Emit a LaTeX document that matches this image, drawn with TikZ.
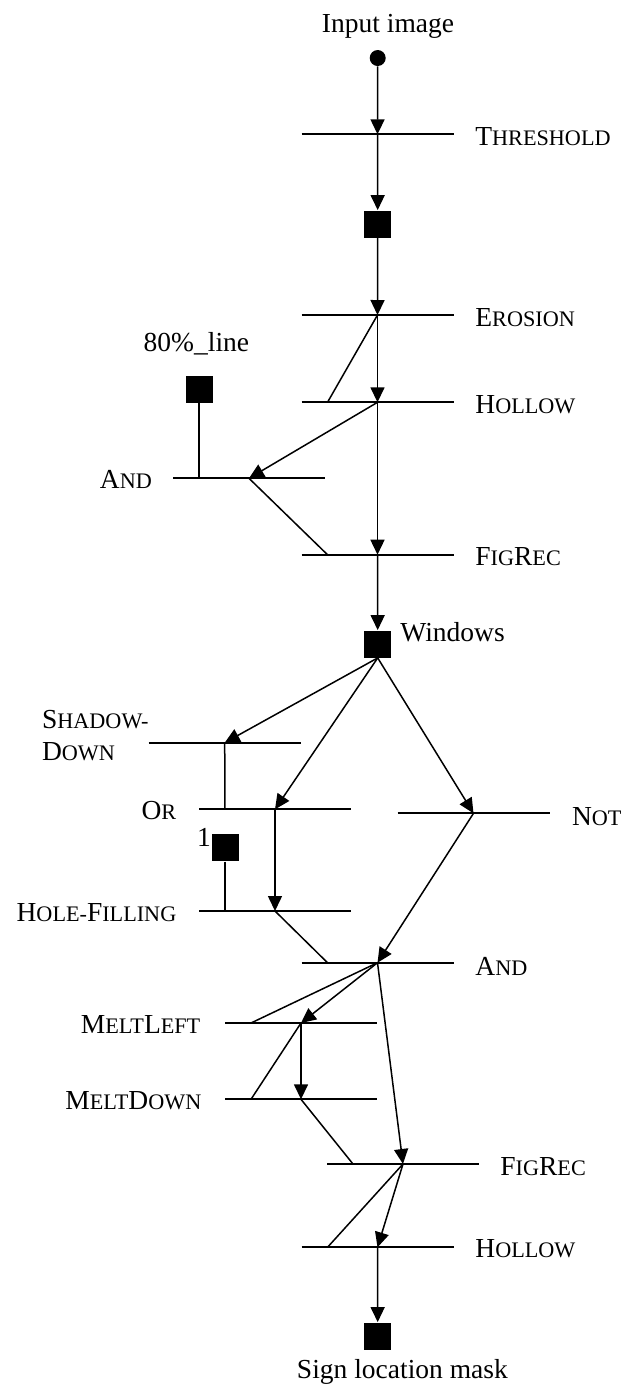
\documentclass[tikz,border=0pt]{standalone}
\usepackage{fontspec}
\setmainfont{Liberation Serif}
\usetikzlibrary{arrows.meta}

% small capitals: full-size initial, reduced capitals after it
\newcommand\smc[2]{#1{\fontsize{11.1}{13}\selectfont #2}}

\begin{document}
\begin{tikzpicture}[x=0.5pt,y=-0.5pt,
  every node/.style={font=\fontsize{13.75}{16}\selectfont, inner sep=0pt},
  opbar/.style={line width=1.1pt},
  link/.style={line width=0.75pt},
  flow/.style={link, -{Triangle[length=7.5pt,width=7pt]}},
  img/.style={fill=black, minimum size=13.5pt, inner sep=0pt},
  src/.style={circle, fill=black, minimum size=8pt, inner sep=0pt},
  lbl/.style={anchor=base west},
  lblr/.style={anchor=base east}]
\useasboundingbox (0,0) rectangle (622,1389);

% operator bars: centre coordinate, left tap point, and the bar itself
\foreach \n/\x/\y in {thr/377.5/134.3, ero/377.5/315, hol/377.5/402.3,
    and1/249/478.3, fig1/377.5/554.7, shd/224.7/742.7, or/275/809.3,
    not/473.5/813.3, hf/275/911, and2/377.5/962.7, ml/301/1023,
    md/301/1099.3, fig2/403/1164, hol2/377.5/1247.3} {
  \coordinate (\n) at (\x,\y);
  \coordinate (\n-l) at (\x-50,\y);
  \draw[opbar] (\x-76,\y) -- (\x+76,\y);
}

% images
\node[src] (input) at (377.7,58) {};
\node[img] (bin) at (377.7,224) {};
\node[img] (line80) at (199,389) {};
\node[img] (win) at (377.7,644) {};
\node[img] (one) at (225,847.7) {};
\node[img] (mask) at (377.7,1336) {};

% texts
\node[anchor=base] (t-in) at (388,32) {Input image};
\node[lbl] (t-thr) at (475,145) {\smc{T}{HRESHOLD}};
\node[lbl] (t-ero) at (475,326) {\smc{E}{ROSION}};
\node[lbl] (t-hol) at (475,413) {\smc{H}{OLLOW}};
\node[lbl] (t-80) at (143.3,351.7) {80\%\_line};
\node[lblr] (t-and1) at (152.3,488.3) {\smc{A}{ND}};
\node[lbl] (t-fig1) at (475,565) {\smc{F}{IG}\smc{R}{EC}};
\node[lbl] (t-win) at (400,641.7) {Windows};
\node[lbl] (t-shd1) at (41.7,728.3) {\smc{S}{HADOW-}};
\node[lbl] (t-shd2) at (41.7,760.7) {\smc{D}{OWN}};
\node[lblr] (t-or) at (176.7,819.3) {\smc{O}{R}};
\node[lbl] (t-not) at (571.7,825) {\smc{N}{OT}};
\node[lbl] (t-one) at (196.7,846) {1};
\node[lblr] (t-hf) at (176.7,921.7) {\smc{H}{OLE-}\smc{F}{ILLING}};
\node[lbl] (t-and2) at (475,975) {\smc{A}{ND}};
\node[lblr] (t-ml) at (200.7,1033.3) {\smc{M}{ELT}\smc{L}{EFT}};
\node[lblr] (t-md) at (201.7,1109.3) {\smc{M}{ELT}\smc{D}{OWN}};
\node[lbl] (t-fig2) at (500,1175) {\smc{F}{IG}\smc{R}{EC}};
\node[lbl] (t-hol2) at (475,1257) {\smc{H}{OLLOW}};
\node[anchor=base] (t-mask) at (402.4,1378) {Sign location mask};

% first stage
\draw[flow] (input) -- (thr);
\draw[flow] (thr) -- (bin.north);
\draw[flow] (bin.south) -- (ero);
\draw[flow] (ero) -- (hol);
\draw[link] (ero) -- (hol-l);
\draw[flow] (hol) -- (and1);
\draw[flow] (hol) -- (fig1);
\draw[link] (line80.south) -- (and1-l);
\draw[link] (and1) -- (fig1-l);
\draw[flow] (fig1) -- (win.north);

% second stage
\draw[flow] (win.south) -- (shd);
\draw[flow] (win.south) -- (or);
\draw[flow] (win.south) -- (not);
\draw[link] (shd) -- (or-l);
\draw[flow] (or) -- (hf);
\draw[link] (one.south) -- (hf-l);
\draw[link] (hf) -- (and2-l);
\draw[flow] (not) -- (and2);
\draw[link] (and2) -- (ml-l);
\draw[flow] (and2) -- (ml);
\draw[flow] (and2) -- (fig2);
\draw[flow] (ml) -- (md);
\draw[link] (ml) -- (md-l);
\draw[link] (md) -- (fig2-l);
\draw[flow] (fig2) -- (hol2);
\draw[link] (fig2) -- (hol2-l);
\draw[flow] (hol2) -- (mask.north);
\end{tikzpicture}
\end{document}
